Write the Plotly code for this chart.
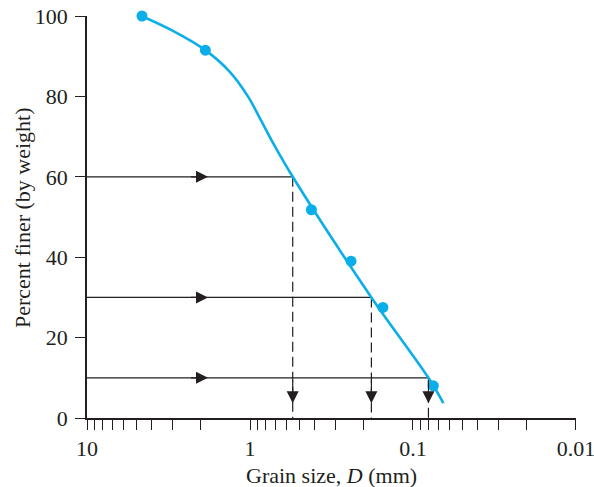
import math
import plotly.graph_objects as go

# Sieve data
grain_size = [4.6, 1.88, 0.42, 0.24, 0.153, 0.075]
percent_finer = [100, 91.5, 51.8, 39.0, 27.5, 8.0]

# Hand-fitted grain-size distribution curve
curve_size = [4.63, 2.97, 1.88, 1.33, 1.03, 0.87, 0.72, 0.547, 0.18, 0.0804, 0.0651]
curve_pct = [100, 96.3, 91.5, 86.1, 80.0, 74.6, 68.3, 60.0, 30.0, 10.0, 3.7]

# Construction lines D60, D30, D10
ref_pct = [60, 30, 10]
ref_size = [0.547, 0.18, 0.0804]
arrow_tip_size = 1.81      # where the horizontal arrowheads sit
arrow_tip_pct = 3.7        # where the vertical arrowheads sit

x_major = [10, 1, 0.1, 0.01]
x_major_labels = ["10", "1", "0.1", "0.01"]
y_ticks = [0, 20, 40, 60, 80, 100]

INK = "#231f20"
BLUE = "#0aaee8"
FONT = "Liberation Serif, Times New Roman, serif"
FS = 22

L, R, T, B = 87, 576, 16, 418   # plot area in pixels
W, H = 594, 487

# all log ticks (1..9 per decade), labels only on decades
x_tickvals, x_ticktext = [], []
for dec in [1, 0, -1, -2]:
    for m in range(1, 10):
        v = round(m * 10 ** dec, 6)
        if v > 10 or v < 0.01:
            continue
        x_tickvals.append(v)
        x_ticktext.append(x_major_labels[x_major.index(v)] if v in x_major else "")

fig = go.Figure()

# construction lines
for p, d in zip(ref_pct, ref_size):
    fig.add_trace(go.Scatter(x=[10, d], y=[p, p], mode="lines",
                             line=dict(color=INK, width=1.2), hoverinfo="skip", showlegend=False))
    fig.add_trace(go.Scatter(x=[d, d], y=[p, 0], mode="lines",
                             line=dict(color=INK, width=1.2, dash="10px,5px"),
                             hoverinfo="skip", showlegend=False))

# curve
fig.add_trace(go.Scatter(x=curve_size, y=curve_pct, mode="lines",
                         line=dict(color=BLUE, width=2.6, shape="spline", smoothing=1.0),
                         hoverinfo="skip", showlegend=False, cliponaxis=False))
# data points
fig.add_trace(go.Scatter(x=grain_size, y=percent_finer, mode="markers",
                         marker=dict(color=BLUE, size=11), showlegend=False, cliponaxis=False))

# arrowheads
ann = []
for p, d in zip(ref_pct, ref_size):
    ann.append(dict(x=math.log10(arrow_tip_size), y=p, ax=math.log10(arrow_tip_size * 1.3), ay=p,
                    xref="x", yref="y", axref="x", ayref="y", text="", showarrow=True,
                    arrowhead=2, arrowsize=2.0, arrowwidth=1.2, arrowcolor=INK, standoff=0))
    ann.append(dict(x=math.log10(d), y=arrow_tip_pct, ax=math.log10(d), ay=arrow_tip_pct + 6,
                    xref="x", yref="y", axref="x", ayref="y", text="", showarrow=True,
                    arrowhead=2, arrowsize=2.0, arrowwidth=1.2, arrowcolor=INK, standoff=0))

# axis titles
ann.append(dict(text="Grain size, <i>D</i> (mm)", xref="paper", yref="paper",
                x=(331 - L) / (R - L), y=-(475 - B) / (B - T),
                xanchor="center", yanchor="middle", showarrow=False,
                font=dict(family=FONT, size=FS, color=INK)))
ann.append(dict(text="Percent finer (by weight)", xref="paper", yref="paper",
                x=-(L - 22) / (R - L), y=(B - 218) / (B - T), textangle=-90,
                xanchor="center", yanchor="middle", showarrow=False,
                font=dict(family=FONT, size=FS, color=INK)))

fig.update_layout(
    width=W, height=H,
    margin=dict(l=L, r=W - R, t=T, b=H - B, autoexpand=False),
    paper_bgcolor="white", plot_bgcolor="white",
    font=dict(family=FONT, size=FS, color=INK),
    annotations=ann,
    xaxis=dict(type="log", range=[1.0001, -2.0001], tickvals=x_tickvals, ticktext=x_ticktext,
               ticks="outside", ticklen=10, tickwidth=1.2, tickcolor=INK, automargin=False,
               ticklabelstandoff=0, ticklabeloverflow="allow",
               showline=True, linecolor=INK, linewidth=1.5, showgrid=False, zeroline=False,
               tickfont=dict(family=FONT, size=FS, color=INK)),
    yaxis=dict(range=[0, 100], tickvals=y_ticks, automargin=False,
               ticks="outside", ticklen=10, tickwidth=1.2, tickcolor=INK,
               ticklabelstandoff=3, ticklabeloverflow="allow",
               showline=True, linecolor=INK, linewidth=1.5, showgrid=False, zeroline=False,
               tickfont=dict(family=FONT, size=FS, color=INK)),
)

fig.write_html("out.html", config={"displayModeBar": False},
               post_script="document.body.style.margin='0px';")
